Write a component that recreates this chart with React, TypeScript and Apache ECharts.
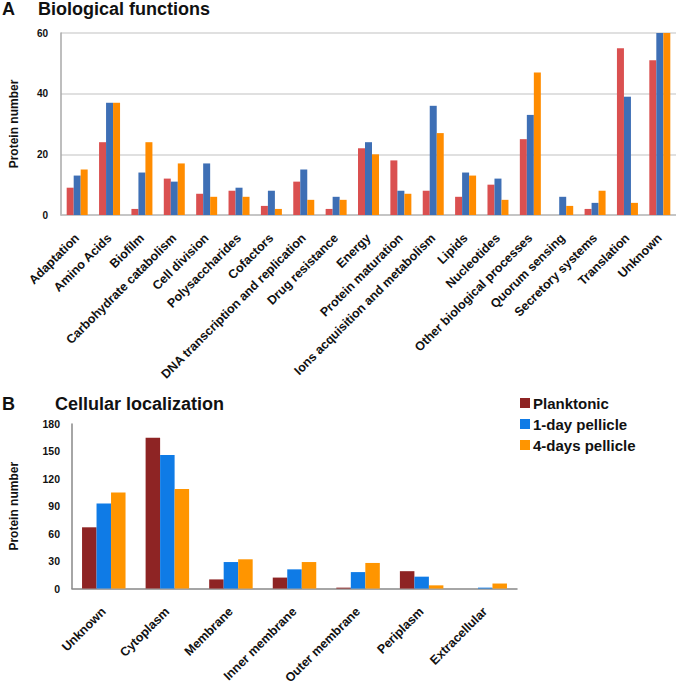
import React, { useEffect, useRef } from "react";
import * as echarts from "echarts";

const bioCategories = [
  "Adaptation",
  "Amino Acids",
  "Biofilm",
  "Carbohydrate catabolism",
  "Cell division",
  "Polysaccharides",
  "Cofactors",
  "DNA transcription and replication",
  "Drug resistance",
  "Energy",
  "Protein maturation",
  "Ions acquisition and metabolism",
  "Lipids",
  "Nucleotides",
  "Other biological processes",
  "Quorum sensing",
  "Secretory systems",
  "Translation",
  "Unknown",
];
const bioPlanktonic = [9, 24, 2, 12, 7, 8, 3, 11, 2, 22, 18, 8, 6, 10, 25, 0, 2, 55, 51];
const bioDay1 = [13, 37, 14, 11, 17, 9, 8, 15, 6, 24, 8, 36, 14, 12, 33, 6, 4, 39, 60];
const bioDay4 = [15, 37, 24, 17, 6, 6, 2, 5, 5, 20, 7, 27, 13, 5, 47, 3, 8, 4, 60];
const bioTicks = [0, 20, 40, 60];

const locCategories = [
  "Unknown",
  "Cytoplasm",
  "Membrane",
  "Inner membrane",
  "Outer membrane",
  "Periplasm",
  "Extracellular",
];
const locPlanktonic = [67, 165, 10, 12, 1, 19, 0];
const locDay1 = [93, 146, 29, 21, 18, 13, 1];
const locDay4 = [105, 109, 32, 29, 28, 3.5, 5.5];
const locTicks = [0, 30, 60, 90, 120, 150, 180];

const seriesNames = ["Planktonic", "1-day pellicle", "4-days pellicle"];

const FONT = "Liberation Sans, Arial, sans-serif";

export default function App() {
  const ref = useRef<HTMLDivElement>(null);

  useEffect(() => {
    if (!ref.current) return;
    const chart = echarts.init(ref.current, undefined, { renderer: "svg" });
    const topColors = ["#DA5050", "#3E6FB5", "#FF8C00"];
    const botColors = ["#8E2424", "#0F7BE6", "#FF9500"];
    const topData = [bioPlanktonic, bioDay1, bioDay4];
    const botData = [locPlanktonic, locDay1, locDay4];

    const option: any = {
      animation: false,
      textStyle: { fontFamily: FONT },
      graphic: [
        { type: "text", left: 2, top: 0, style: { text: "A", font: `bold 18px ${FONT}`, fill: "#111" } },
        { type: "text", left: 38, top: 0, style: { text: "Biological functions", font: `bold 18px ${FONT}`, fill: "#111" } },
        { type: "text", left: 2, top: 395, style: { text: "B", font: `bold 18px ${FONT}`, fill: "#111" } },
        { type: "text", left: 55, top: 395, style: { text: "Cellular localization", font: `bold 18px ${FONT}`, fill: "#111" } },
      ],
      legend: {
        data: seriesNames,
        orient: "vertical",
        left: 515,
        top: 390,
        itemWidth: 10,
        itemHeight: 10,
        itemGap: 5,
        icon: "rect",
        textStyle: { fontFamily: FONT, fontWeight: "bold", fontSize: 15, color: "#111", lineHeight: 16, padding: [0, 0, 0, -2] },
      },
      grid: [
        { left: 48, top: 33, width: 628, height: 182 },
        { left: 60, top: 424, width: 457, height: 168 },
      ],
      xAxis: [
        {
          type: "category",
          gridIndex: 0,
          data: bioCategories,
          axisLine: { lineStyle: { color: "#BDBDBD", width: 1.5 } },
          axisTick: { show: false },
          axisLabel: {
            interval: 0,
            rotate: 45,
            margin: 21,
            fontFamily: FONT,
            fontWeight: "bold",
            fontSize: 12.5,
            color: "#111",
          },
        },
        {
          type: "category",
          gridIndex: 1,
          data: locCategories,
          axisLine: { lineStyle: { color: "#888", width: 1.5 } },
          axisTick: { show: false },
          axisLabel: {
            interval: 0,
            rotate: 45,
            margin: 21,
            fontFamily: FONT,
            fontWeight: "bold",
            fontSize: 12.5,
            color: "#111",
          },
        },
      ],
      yAxis: [
        {
          type: "value",
          gridIndex: 0,
          min: bioTicks[0],
          max: bioTicks[bioTicks.length - 1],
          interval: 20,
          name: "Protein number",
          nameLocation: "middle",
          nameGap: 41,
          nameRotate: 90,
          nameTextStyle: { fontFamily: FONT, fontWeight: "bold", fontSize: 12, color: "#111" },
          axisLine: { show: true, lineStyle: { color: "#A8A8A8", width: 1.5 } },
          axisTick: { show: false },
          splitLine: { show: true, lineStyle: { color: "#D6D6D6", width: 1.5 } },
          axisLabel: { margin: 13, fontFamily: FONT, fontWeight: "bold", fontSize: 10, color: "#111" },
        },
        {
          type: "value",
          gridIndex: 1,
          min: locTicks[0],
          max: locTicks[locTicks.length - 1],
          interval: 30,
          name: "Protein number",
          nameLocation: "middle",
          nameGap: 52,
          nameRotate: 90,
          nameTextStyle: { fontFamily: FONT, fontWeight: "bold", fontSize: 12, color: "#111" },
          axisLine: { show: true, lineStyle: { color: "#888", width: 1.5 } },
          axisTick: { show: false },
          splitLine: { show: false },
          axisLabel: { margin: 12, fontFamily: FONT, fontWeight: "bold", fontSize: 10.5, color: "#111" },
        },
      ],
      series: [
        ...topData.map((d, i) => ({
          name: seriesNames[i] + " (A)",
          type: "bar",
          xAxisIndex: 0,
          yAxisIndex: 0,
          data: d,
          barWidth: 7,
          barGap: "0%",
          clip: true,
          itemStyle: { color: topColors[i] },
        })),
        ...botData.map((d, i) => ({
          name: seriesNames[i],
          type: "bar",
          xAxisIndex: 1,
          yAxisIndex: 1,
          data: d,
          barWidth: 14.5,
          barGap: "0%",
          clip: true,
          itemStyle: { color: botColors[i] },
        })),
      ],
    };
    chart.setOption(option);
    return () => chart.dispose();
  }, []);

  return (
    <div
      ref={ref}
      style={{ position: "absolute", left: 0, top: 0, width: 676, height: 687, background: "#fff" }}
    />
  );
}
